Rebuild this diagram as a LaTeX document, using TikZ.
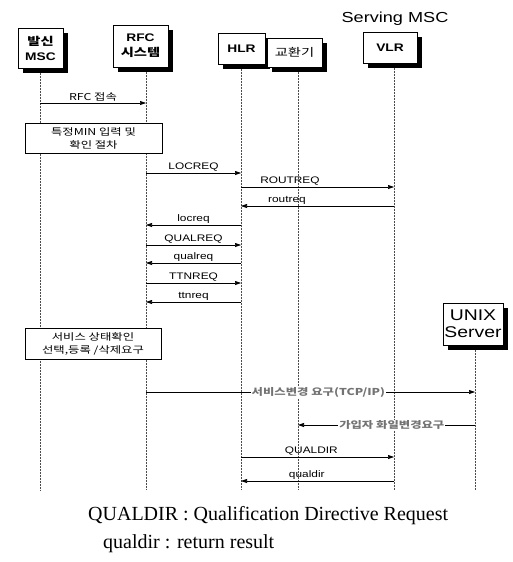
\documentclass[tikz,border=0pt]{standalone}
\usepackage{fontspec}
\setmainfont{Liberation Serif}
\newfontfamily\lbl[FakeStretch=1.25]{Liberation Sans}
\newfontfamily\kr[FakeStretch=1.3]{Noto Sans CJK KR}
\usetikzlibrary{arrows.meta, shadows}

\begin{document}
\begin{tikzpicture}[x=1pt, y=-1pt,
    unit/.style={draw, thick, fill=white, inner sep=1pt, align=center,
                 drop shadow={shadow xshift=5pt, shadow yshift=-5pt, fill=black, opacity=1},
                 font=\lbl\bfseries\fontsize{11}{15}\selectfont},
    life/.style={densely dotted, black!70, line width=0.5pt},
    note/.style={draw, fill=white, align=center, inner sep=1pt,
                 font=\kr\fontsize{9.5}{13}\selectfont},
    msg/.style={line width=0.6pt, -{Triangle[length=6pt, width=4pt]}},
    tag/.style={above, inner sep=1.5pt, font=\lbl\fontsize{9.5}{11}\selectfont},
    tcp/.style={fill=white, inner sep=1pt, text=black!55,
                font=\kr\bfseries\fontsize{9.5}{11}\selectfont}
]
\useasboundingbox (0,0) rectangle (513,562);

% lifelines
\coordinate (bottom) at (0,490);
\coordinate (Lmsc) at (40,68);
\coordinate (Lrfc) at (146,67);
\coordinate (Lhlr) at (241,64);
\coordinate (Lsw) at (298,67);
\coordinate (Lvlr) at (394,63);
\coordinate (Lunix) at (475,345);
\foreach \l in {Lmsc, Lrfc, Lhlr, Lsw, Lvlr, Lunix}
    \draw[life] (\l) -- (\l |- bottom);

% units
\node[unit, minimum width=45pt, minimum height=40pt] (msc) at (40.5,48) {{\kr 발신}\\MSC};
\node[unit, minimum width=55pt, minimum height=42pt] (rfc) at (140.5,46) {RFC\\{\kr 시스템}};
\node[unit, minimum width=47pt, minimum height=31pt] (hlr) at (241.5,48.5) {HLR};
\node[unit, minimum width=55pt, minimum height=29pt] (sw) at (294.5,52.5) {\kr\mdseries 교환기};
\node[unit, minimum width=54pt, minimum height=31pt] (vlr) at (390,47.5) {VLR};
\node[font=\lbl\fontsize{14.5}{16}\selectfont] (serving) at (395,19) {Serving MSC};
\node[unit, minimum width=60pt, minimum height=42pt,
      font=\lbl\fontsize{15.5}{17}\selectfont] (unix) at (473,324) {UNIX\\Server};

% procedures
\node[note, minimum width=137pt, minimum height=30pt] (check) at (93.5,138)
    {특정MIN 입력 및\\확인 절차};
\node[note, minimum width=136pt, minimum height=31pt] (service) at (93,343.5)
    {서비스 상태확인\\선택,등록 /삭제요구};

% messages
\draw[msg] (Lmsc |- 0,103) -- node[tag] {\kr RFC 접속} (Lrfc |- 0,103);
\draw[msg] (Lrfc |- 0,173) -- node[tag] {LOCREQ} (Lhlr |- 0,173);
\draw[msg] (Lhlr |- 0,187) -- node[tag, pos=0.32] {ROUTREQ} (Lvlr |- 0,187);
\draw[msg] (Lvlr |- 0,206) -- node[tag, pos=0.7] {routreq} (Lhlr |- 0,206);
\draw[msg] (Lhlr |- 0,225) -- node[tag] {locreq} (Lrfc |- 0,225);
\draw[msg] (Lrfc |- 0,245) -- node[tag] {QUALREQ} (Lhlr |- 0,245);
\draw[msg] (Lhlr |- 0,263) -- node[tag] {qualreq} (Lrfc |- 0,263);
\draw[msg] (Lrfc |- 0,283) -- node[tag] {TTNREQ} (Lhlr |- 0,283);
\draw[msg] (Lhlr |- 0,302) -- node[tag] {ttnreq} (Lrfc |- 0,302);
\draw[msg] (Lrfc |- 0,392) -- node[tcp, pos=0.524] {서비스변경 요구(TCP/IP)} (Lunix |- 0,392);
\draw[msg] (Lunix |- 0,425) -- node[tcp, pos=0.47] {가입자 화일변경요구} (Lsw |- 0,425);
\draw[msg] (Lhlr |- 0,457) -- node[tag, pos=0.46] {QUALDIR} (Lvlr |- 0,457);
\draw[msg] (Lvlr |- 0,481) -- node[tag, pos=0.57] {qualdir} (Lhlr |- 0,481);

% legend
\node[anchor=base west, inner sep=0pt, font=\fontsize{20}{24}\selectfont] (legend1) at (88,520)
    {QUALDIR : Qualification Directive Request};
\node[anchor=base west, inner sep=0pt, font=\fontsize{20}{24}\selectfont] (legend2) at (103,548)
    {qualdir : return result};
\end{tikzpicture}
\end{document}
